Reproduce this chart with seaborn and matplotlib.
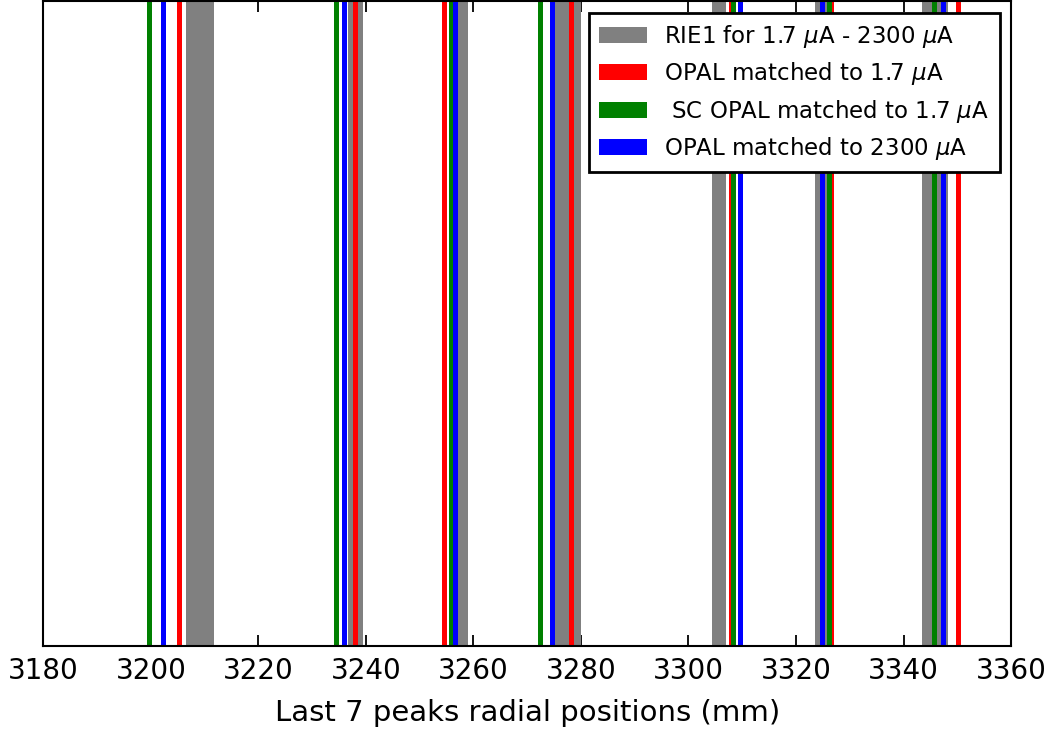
import matplotlib
matplotlib.use("Agg")
import matplotlib.pyplot as plt
from matplotlib.patches import Patch
import seaborn as sns
import numpy as np

# RIE1 bands (start, end) in mm
rie_start = [3206.5, 3236.6, 3255.6, 3275.2, 3304.3, 3323.5, 3343.5]
rie_end = [3211.7, 3239.5, 3259.0, 3280.0, 3306.9, 3325.8, 3348.3]
# peak positions (mm)
opal_17 = [3205.3, 3237.9, 3254.6, 3278.1, 3308.0, 3326.6, 3350.2]
sc_opal_17 = [3199.6, 3234.5, 3255.8, 3272.3, 3308.2, 3326.2, 3345.6]
opal_2300 = [3202.2, 3236.0, 3256.5, 3274.7, 3309.5, 3324.9, 3347.4]

labels = ["RIE1 for 1.7 $\\mu$A - 2300 $\\mu$A",
          "OPAL matched to 1.7 $\\mu$A",
          " SC OPAL matched to 1.7 $\\mu$A",
          "OPAL matched to 2300 $\\mu$A"]
colors = ["gray", "red", "green", "blue"]
xticks = [3180, 3200, 3220, 3240, 3260, 3280, 3300, 3320, 3340, 3360]

sns.set_style("white")
plt.rcParams['font.family'] = ['DejaVu Sans']
plt.rcParams['text.color'] = 'black'
plt.rcParams['axes.labelcolor'] = 'black'
plt.rcParams['xtick.color'] = 'black'

fig = plt.figure(figsize=(10.57, 7.31), dpi=100)
ax = fig.add_axes([0.041, 0.1167, 0.9155, 0.8815])

for s, e in zip(rie_start, rie_end):
    ax.axvspan(s, e, color=colors[0], lw=0)

for vals, c in zip([opal_17, sc_opal_17, opal_2300], colors[1:]):
    sns.rugplot(x=vals, height=1, color=c, linewidth=3.6, ax=ax, expand_margins=False)

ax.set_xlim(3180, 3360)
ax.set_ylim(0, 1)
ax.set_yticks([])
ax.set_xticks(xticks)
ax.set_xticklabels([str(t) for t in xticks], fontsize=20)
ax.tick_params(axis='x', direction='in', length=8, width=1.3, top=True, bottom=True,
               pad=8, colors='black')
for sp in ax.spines.values():
    sp.set_visible(True)
    sp.set_color('black')
    sp.set_linewidth(1.5)
ax.set_xlabel("Last 7 peaks radial positions (mm)", fontsize=21, labelpad=10, color='black')

handles = [Patch(facecolor=c, edgecolor='none') for c in colors]
leg = ax.legend(handles, labels, loc='upper right', fontsize=16.5, frameon=True,
                fancybox=False, edgecolor='black', framealpha=1,
                handlelength=2.1, handleheight=0.7, borderaxespad=0.5,
                labelspacing=0.45, handletextpad=0.75, borderpad=0.45)
leg.get_frame().set_linewidth(2)
for t in leg.get_texts():
    t.set_color('black')

fig.savefig("out.png", dpi=100)
